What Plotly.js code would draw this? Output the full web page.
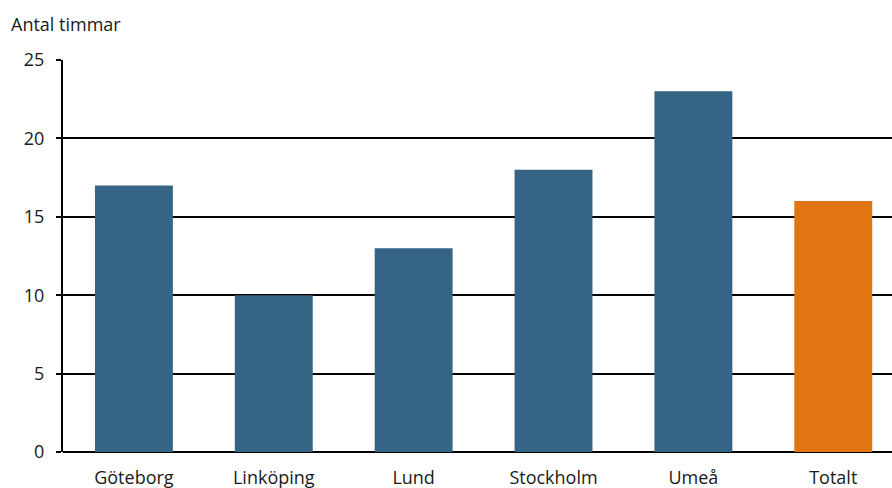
<!DOCTYPE html>
<html><head><meta charset="utf-8">
<script src="https://cdn.plot.ly/plotly-3.0.1.min.js"></script>
<style>body{margin:0;padding:0;}#c{width:892px;height:488px;}</style>
</head><body><div id="c"></div>
<script>
var categories = ["Göteborg", "Linköping", "Lund", "Stockholm", "Umeå", "Totalt"];
var values = [17, 10, 13, 18, 23, 16];
var colors = ["#366484", "#366484", "#366484", "#366484", "#366484", "#E07511"];
var yTicks = [0, 5, 10, 15, 20, 25];

var trace = {
  type: "bar",
  x: categories,
  y: values,
  marker: {color: colors, line: {width: 0}},
  hoverinfo: "skip"
};
var font = {family: "Open Sans, sans-serif", size: 18, color: "#1a1a1a"};
var layout = {
  width: 892, height: 488,
  margin: {l: 63, r: 0, t: 60, b: 36},
  paper_bgcolor: "#ffffff", plot_bgcolor: "#ffffff",
  showlegend: false,
  bargap: 0.443,
  font: font,
  xaxis: {
    range: [-0.507, 5.42],
    showgrid: false, zeroline: false, showline: false,
    ticks: "", tickfont: font, ticklabelstandoff: 13, fixedrange: true
  },
  yaxis: {
    range: [0, 25], tickvals: yTicks, ticktext: yTicks.map(String),
    showgrid: true, gridcolor: "#000000", gridwidth: 2,
    zeroline: true, zerolinecolor: "#000000", zerolinewidth: 2,
    showline: true, linecolor: "#000000", linewidth: 2,
    ticks: "outside", ticklen: 5, tickwidth: 2, tickcolor: "#000000",
    tickfont: font, ticklabelstandoff: 8, fixedrange: true
  },
  annotations: [{
    text: "Antal timmar", xref: "paper", yref: "paper",
    x: -63/829 + 9/829, y: 1, yshift: 36, xanchor: "left", yanchor: "middle",
    showarrow: false, font: font
  }]
};
Plotly.newPlot("c", [trace], layout, {displayModeBar: false, staticPlot: true});
</script></body></html>
